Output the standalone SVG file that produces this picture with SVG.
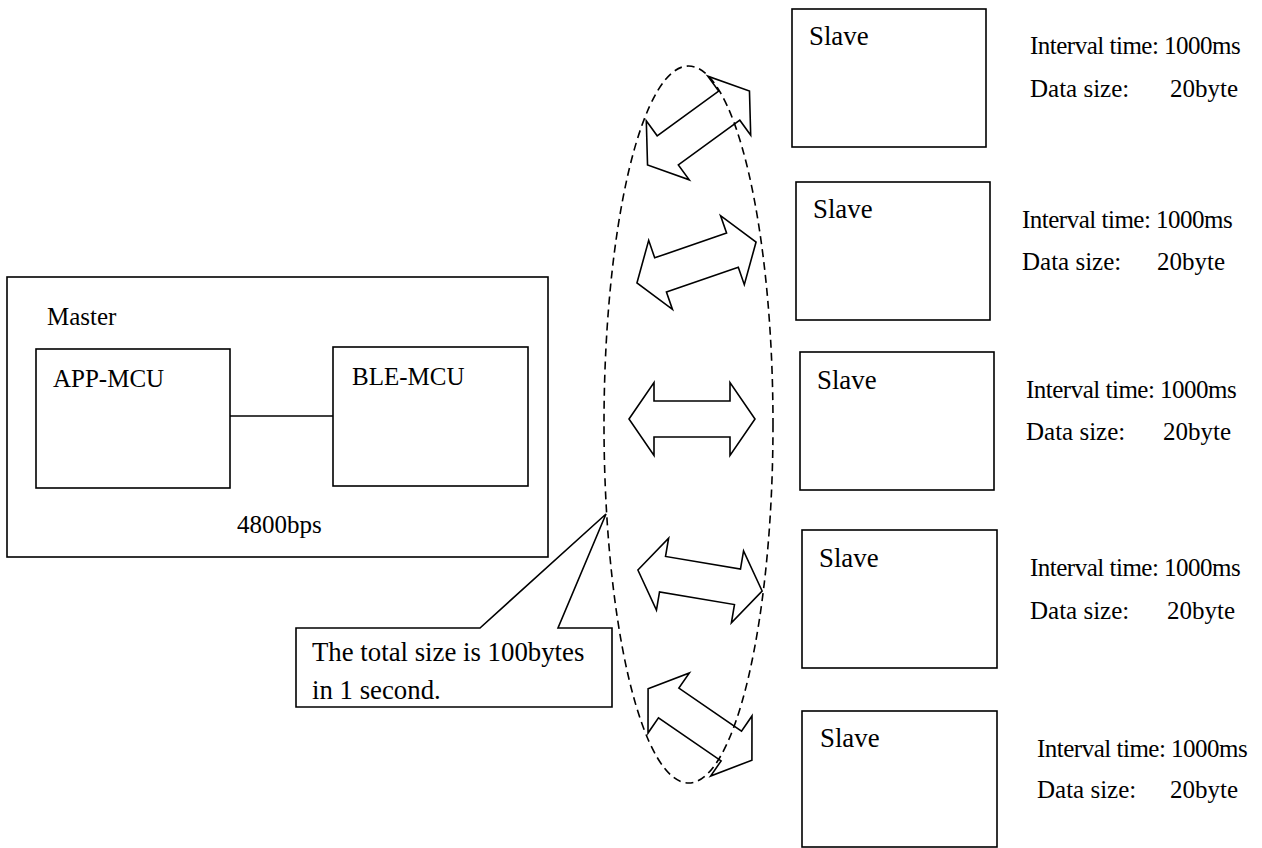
<svg xmlns="http://www.w3.org/2000/svg" width="1262" height="848" viewBox="0 0 1262 848">
<defs>
<style>
.box{fill:#fff;stroke:#000;stroke-width:1.6}
.t{font-family:"Liberation Serif","Times New Roman",serif;font-size:25px;fill:#000}
.s{font-size:26.8px}
.iv{letter-spacing:-0.5px}
.c{font-size:26.8px}
.arr{fill:none;stroke:#000;stroke-width:1.6;stroke-linejoin:miter}
.ln{stroke:#000;stroke-width:1.6;fill:none}
</style>
<polygon id="dbl" points="-63,0 -38,-36.5 -38,-18 38,-18 38,-36.5 63,0 38,36.5 38,18 -38,18 -38,36.5"/>
</defs>
<rect width="1262" height="848" fill="#fff"/>

<g id="master">
<rect class="box" x="7" y="277" width="541" height="280"/>
<text class="t" x="47" y="325">Master</text>
<text class="t" x="237" y="533">4800bps</text>
</g>
<g id="app-mcu">
<rect class="box" x="36" y="349" width="194" height="139"/>
<text class="t" x="53" y="387">APP-MCU</text>
</g>
<g id="ble-mcu">
<rect class="box" x="333" y="347" width="195" height="139"/>
<text class="t" x="352" y="385">BLE-MCU</text>
</g>

<g id="connectors">
<line class="ln" x1="230" y1="416" x2="333" y2="416"/>
<use href="#dbl" class="arr" transform="translate(698.5,128) rotate(-36)"/>
<use href="#dbl" class="arr" transform="translate(696.5,262.5) rotate(-19)"/>
<use href="#dbl" class="arr" transform="translate(692,419)"/>
<use href="#dbl" class="arr" transform="translate(700,580.5) rotate(9.6)"/>
<use href="#dbl" class="arr" transform="translate(700,724.5) rotate(34.5)"/>
</g>

<g id="group-ellipse">
<ellipse cx="688.5" cy="424.5" rx="84.5" ry="358.5" fill="none" stroke="#000" stroke-width="1.6" stroke-dasharray="8 5"/>
</g>

<g id="callout">
<polygon class="box" points="296,628 480,628 606,514 558,628 612,628 612,707 296,707"/>
<text class="t c" x="312" y="661">The total size is 100bytes</text>
<text class="t c" x="312" y="699">in 1 second.</text>
</g>

<g id="slave1">
<rect class="box" x="792" y="9" width="194" height="138"/>
<text class="t s" x="809" y="45">Slave</text>
<text class="t iv" x="1030" y="54">Interval time: 1000ms</text>
<text class="t" x="1030" y="97">Data size:</text>
<text class="t" x="1170" y="97">20byte</text>
</g>
<g id="slave2">
<rect class="box" x="796" y="182" width="194" height="138"/>
<text class="t s" x="813" y="218">Slave</text>
<text class="t iv" x="1022" y="228">Interval time: 1000ms</text>
<text class="t" x="1022" y="270">Data size:</text>
<text class="t" x="1157" y="270">20byte</text>
</g>
<g id="slave3">
<rect class="box" x="800" y="352" width="194" height="138"/>
<text class="t s" x="817" y="389">Slave</text>
<text class="t iv" x="1026" y="398">Interval time: 1000ms</text>
<text class="t" x="1026" y="440">Data size:</text>
<text class="t" x="1163" y="440">20byte</text>
</g>
<g id="slave4">
<rect class="box" x="802" y="530" width="195" height="138"/>
<text class="t s" x="819" y="567">Slave</text>
<text class="t iv" x="1030" y="576">Interval time: 1000ms</text>
<text class="t" x="1030" y="619">Data size:</text>
<text class="t" x="1167" y="619">20byte</text>
</g>
<g id="slave5">
<rect class="box" x="802" y="711" width="195" height="136"/>
<text class="t s" x="820" y="747">Slave</text>
<text class="t iv" x="1037" y="757">Interval time: 1000ms</text>
<text class="t" x="1037" y="798">Data size:</text>
<text class="t" x="1170" y="798">20byte</text>
</g>
</svg>
